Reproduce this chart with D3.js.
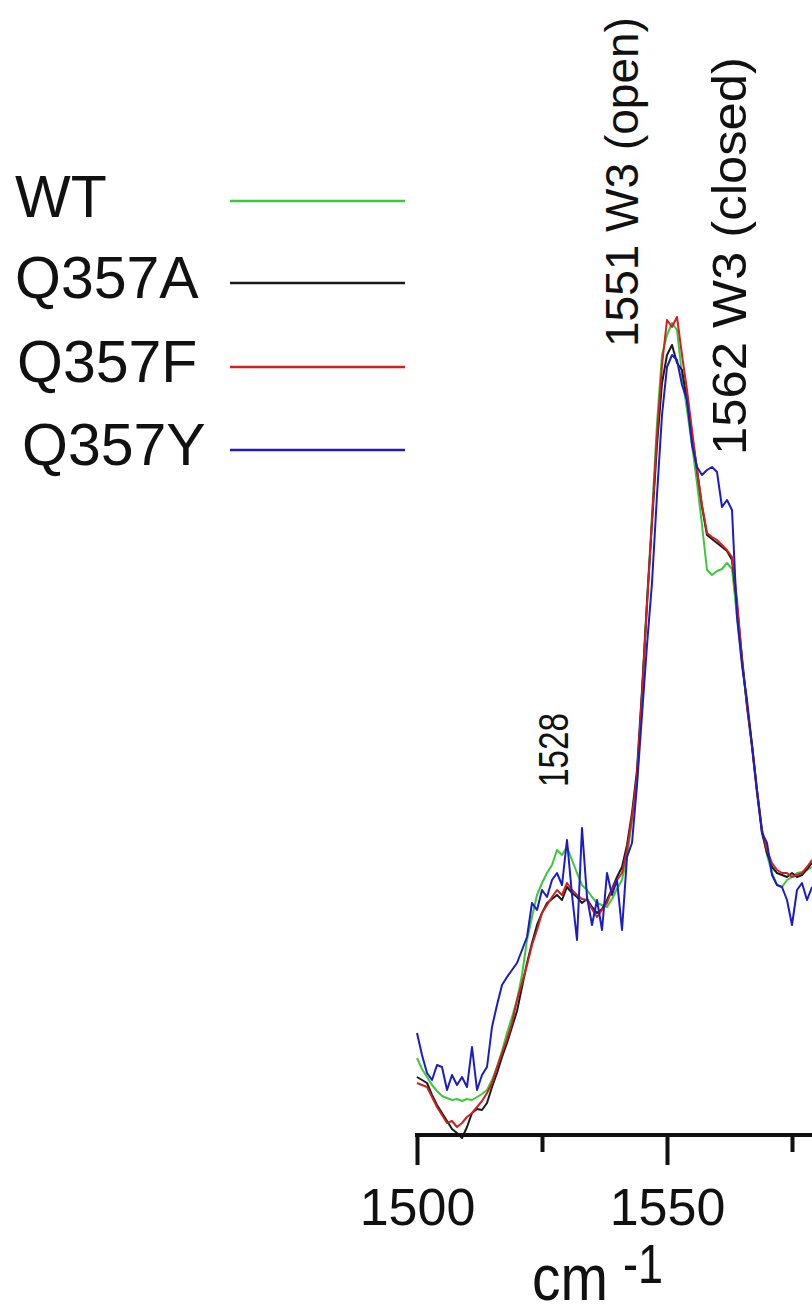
<!DOCTYPE html>
<html>
<head>
<meta charset="utf-8">
<script src="https://cdn.jsdelivr.net/npm/d3@7/dist/d3.min.js"></script>
<style>
  html, body { margin: 0; padding: 0; background: #fff; }
  svg { display: block; }
  text { font-family: "Liberation Sans", Arial, Helvetica, sans-serif; fill: #111; }
</style>
</head>
<body>
<svg id="chart" width="812" height="1315"></svg>
<script>
// Raman spectra, 1500–1579 cm-1, one reading per wavenumber (arbitrary intensity units)
const wavenumbers = d3.range(1500, 1580);

const seriesNames = ["WT", "Q357A", "Q357F", "Q357Y"];
const seriesColors = ["#3cc83c", "#1a1a1a", "#cc2222", "#1c1cc4"];

const wtValues = [
  77, 66, 58, 50, 44, 39, 37, 35, 36, 34,
  36, 35, 38, 41, 45, 55, 68, 84, 102, 118,
  135, 160, 195, 218, 240, 252, 262, 270, 285, 280,
  288, 275, 262, 250, 245, 238, 232, 230, 228, 236,
  246, 255, 278, 315, 352, 440, 535, 620, 712, 780,
  800, 812, 805, 760, 725, 690, 652, 610, 565, 560,
  564, 566, 572, 566, 518, 472, 430, 390, 345, 305,
  280, 262, 250, 248, 255, 258, 262, 263, 265, 268
];

const q357aValues = [
  58, 55, 52, 40, 30, 22, 14, 6, 2, -3,
  8, 22, 26, 25, 32, 48, 62, 78, 92, 108,
  124, 148, 172, 192, 210, 222, 232, 236, 240, 235,
  248, 242, 238, 232, 236, 228, 222, 226, 235, 246,
  258, 268, 290, 322, 365, 445, 532, 612, 690, 752,
  780, 790, 772, 765, 735, 700, 665, 628, 600, 596,
  592, 588, 584, 575, 530, 478, 428, 388, 342, 302,
  282, 268, 262, 260, 258, 262, 258, 260, 266, 272
];

const q357fValues = [
  52, 50, 48, 38, 28, 20, 12, 14, 8, 12,
  18, 22, 28, 34, 42, 52, 68, 82, 96, 112,
  135, 152, 170, 190, 205, 222, 230, 238, 245, 240,
  252, 245, 240, 236, 235, 226, 218, 225, 232, 245,
  255, 262, 285, 318, 360, 440, 530, 615, 700, 770,
  815, 808, 818, 780, 745, 705, 665, 630, 602, 598,
  595, 590, 585, 578, 535, 475, 430, 390, 345, 305,
  285, 272, 265, 262, 262, 258, 260, 262, 268, 275
];

const q357yValues = [
  102, 80, 62, 55, 70, 68, 45, 60, 50, 58,
  48, 88, 45, 60, 68, 108, 130, 150, 158, 165,
  172, 185, 198, 232, 225, 245, 238, 255, 262, 250,
  295, 240, 195, 307, 238, 210, 235, 205, 262, 240,
  255, 205, 278, 292, 350, 420, 490, 552, 640, 720,
  768, 780, 775, 750, 735, 690, 668, 660, 665, 668,
  663, 628, 635, 625, 518, 470, 435, 390, 345, 302,
  292, 260, 250, 248, 235, 210, 245, 252, 235, 248
];

const majorTicks = [1500, 1550];
const minorTicks = [1525, 1575];
const axisTitle = "cm";
const axisTitleExponent = "-1";

const peakLabels = ["1551 W3 (open)", "1562 W3 (closed)", "1528"];

// ---- layout ----
const svg = d3.select("#chart");
const x = d3.scaleLinear().domain([1500, 1579]).range([417, 812]);
const y = d3.scaleLinear().domain([0, 820]).range([1135, 315]);

const allValues = [wtValues, q357aValues, q357fValues, q357yValues];
const series = seriesNames.map((name, i) => ({
  name,
  color: seriesColors[i],
  points: wavenumbers.map((w, j) => [w, allValues[i][j]])
}));

const line = d3.line().x(d => x(d[0])).y(d => y(d[1]));

svg.append("g")
  .selectAll("path")
  .data(series)
  .join("path")
  .attr("d", d => line(d.points))
  .attr("fill", "none")
  .attr("stroke", d => d.color)
  .attr("stroke-width", 2)
  .attr("stroke-linejoin", "round");

// ---- x axis: thick baseline, long major ticks, short minor ticks ----
const axisY = 1135;
const majorAxis = d3.axisBottom(x).tickValues(majorTicks).tickSize(30).tickSizeOuter(0)
  .tickFormat(d3.format("d"));
const gMajor = svg.append("g").attr("transform", `translate(0,${axisY})`).call(majorAxis);
gMajor.select(".domain").attr("stroke", "#111").attr("stroke-width", 4)
  .attr("d", `M${x(1500) - 2},0H812`);
gMajor.selectAll(".tick line").attr("stroke", "#111").attr("stroke-width", 4);
gMajor.selectAll(".tick text")
  .attr("y", 90).attr("dy", 0)
  .attr("font-size", 52)
  .attr("font-family", "Liberation Sans, Arial, sans-serif")
  .attr("fill", "#111");

const minorAxis = d3.axisBottom(x).tickValues(minorTicks).tickSize(17).tickSizeOuter(0)
  .tickFormat("");
const gMinor = svg.append("g").attr("transform", `translate(0,${axisY})`).call(minorAxis);
gMinor.select(".domain").remove();
gMinor.selectAll(".tick line").attr("stroke", "#111").attr("stroke-width", 4);

// axis title with superscript
svg.append("text")
  .attr("x", 532).attr("y", 1300)
  .attr("font-size", 64)
  .attr("textLength", 76).attr("lengthAdjust", "spacingAndGlyphs")
  .text(axisTitle);
svg.append("text")
  .attr("x", 623).attr("y", 1283)
  .attr("font-size", 56)
  .attr("textLength", 40).attr("lengthAdjust", "spacingAndGlyphs")
  .text(axisTitleExponent);

// ---- peak annotations (vertical text) ----
const annotations = [
  { text: peakLabels[0], x: 638, y: 347, size: 46 },
  { text: peakLabels[1], x: 746, y: 455, size: 48, length: 398 },
  { text: peakLabels[2], x: 568, y: 787, size: 42, length: 74 }
];
annotations.forEach(a => {
  const t = svg.append("text")
    .attr("transform", `translate(${a.x},${a.y}) rotate(-90)`)
    .attr("font-size", a.size)
    .text(a.text);
  if (a.length) t.attr("textLength", a.length).attr("lengthAdjust", "spacingAndGlyphs");
});

// ---- legend ----
const legendRows = [
  { tx: 15, ty: 217, ly: 201 },
  { tx: 15, ty: 298, ly: 283 },
  { tx: 17, ty: 382, ly: 367 },
  { tx: 22, ty: 465, ly: 450 }
];
const legend = svg.append("g");
series.forEach((s, i) => {
  const r = legendRows[i];
  legend.append("text")
    .attr("x", r.tx).attr("y", r.ty)
    .attr("font-size", 59)
    .text(s.name);
  legend.append("line")
    .attr("x1", 230).attr("x2", 405)
    .attr("y1", r.ly).attr("y2", r.ly)
    .attr("stroke", s.color)
    .attr("stroke-width", 2.5);
});
</script>
</body>
</html>
